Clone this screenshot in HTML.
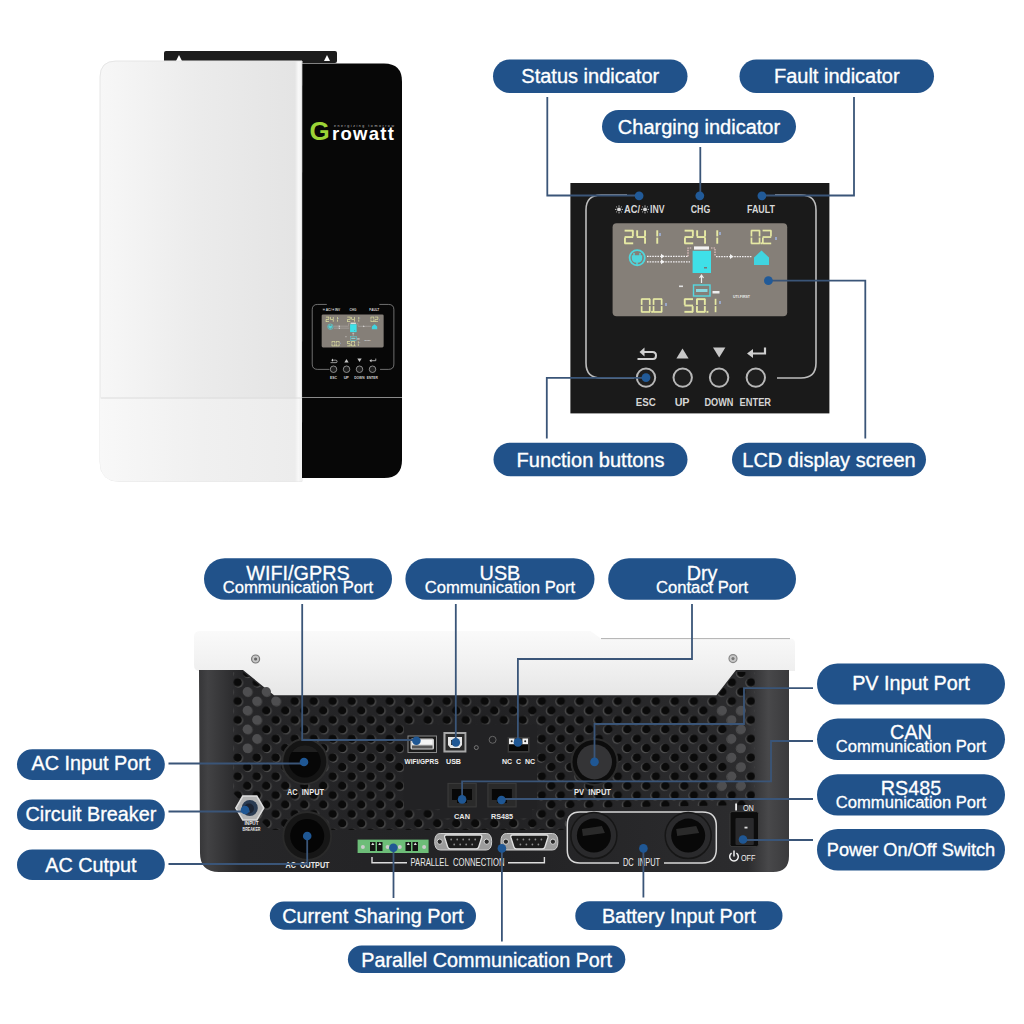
<!DOCTYPE html>
<html><head><meta charset="utf-8"><style>
html,body{margin:0;padding:0;background:#fff;width:1024px;height:1024px;overflow:hidden}
svg{display:block;font-family:"Liberation Sans", sans-serif}
</style></head><body>
<svg width="1024" height="1024" viewBox="0 0 1024 1024">
<defs>
<linearGradient id="wbody" x1="0" x2="1" y1="0" y2="0">
 <stop offset="0" stop-color="#f7f7f7"/>
 <stop offset="0.5" stop-color="#ebebeb"/>
 <stop offset="0.965" stop-color="#e4e4e4"/>
 <stop offset="0.982" stop-color="#f8f8f8"/>
 <stop offset="0.995" stop-color="#f4f4f4"/>
 <stop offset="1" stop-color="#d0d0d0"/>
</linearGradient>
<linearGradient id="wbody2" x1="0" x2="1" y1="0" y2="0">
 <stop offset="0" stop-color="#f8f8f8"/>
 <stop offset="0.5" stop-color="#f0f0f0"/>
 <stop offset="0.965" stop-color="#ececec"/>
 <stop offset="0.982" stop-color="#f8f8f8"/>
 <stop offset="1" stop-color="#eeeeee"/>
</linearGradient>
<linearGradient id="lidg" x1="0" x2="0" y1="0" y2="1">
 <stop offset="0" stop-color="#fafafa"/>
 <stop offset="0.5" stop-color="#f1f1f1"/>
 <stop offset="1" stop-color="#e6e6e6"/>
</linearGradient>
<linearGradient id="bodyg" x1="199" x2="789" y1="0" y2="0" gradientUnits="userSpaceOnUse">
 <stop offset="0" stop-color="#363638"/>
 <stop offset="0.015" stop-color="#424244"/>
 <stop offset="0.045" stop-color="#333335"/>
 <stop offset="0.07" stop-color="#262628"/>
 <stop offset="0.5" stop-color="#222224"/>
 <stop offset="0.93" stop-color="#2c2c2e"/>
 <stop offset="0.965" stop-color="#48484a"/>
 <stop offset="1" stop-color="#3a3a3c"/>
</linearGradient>
<pattern id="holesL" patternUnits="userSpaceOnUse" x="304.3" y="691.7" width="19.0" height="18.8"><circle cx="0.7" cy="0.5" r="4.6" fill="#5a5a5a"/><circle cx="0" cy="0" r="4.3" fill="#0a0a0a"/><circle cx="19.7" cy="0.5" r="4.6" fill="#5a5a5a"/><circle cx="19.0" cy="0" r="4.3" fill="#0a0a0a"/><circle cx="0.7" cy="19.3" r="4.6" fill="#5a5a5a"/><circle cx="0" cy="18.8" r="4.3" fill="#0a0a0a"/><circle cx="19.7" cy="19.3" r="4.6" fill="#5a5a5a"/><circle cx="19.0" cy="18.8" r="4.3" fill="#0a0a0a"/><circle cx="10.2" cy="9.9" r="4.6" fill="#5a5a5a"/><circle cx="9.5" cy="9.4" r="4.3" fill="#0a0a0a"/></pattern><pattern id="holesR" patternUnits="userSpaceOnUse" x="304.3" y="691.7" width="19.0" height="18.8"><circle cx="-0.7" cy="0.5" r="4.6" fill="#5a5a5a"/><circle cx="0" cy="0" r="4.3" fill="#0a0a0a"/><circle cx="18.3" cy="0.5" r="4.6" fill="#5a5a5a"/><circle cx="19.0" cy="0" r="4.3" fill="#0a0a0a"/><circle cx="-0.7" cy="19.3" r="4.6" fill="#5a5a5a"/><circle cx="0" cy="18.8" r="4.3" fill="#0a0a0a"/><circle cx="18.3" cy="19.3" r="4.6" fill="#5a5a5a"/><circle cx="19.0" cy="18.8" r="4.3" fill="#0a0a0a"/><circle cx="8.8" cy="9.9" r="4.6" fill="#5a5a5a"/><circle cx="9.5" cy="9.4" r="4.3" fill="#0a0a0a"/></pattern>
<clipPath id="clipL"><rect x="0" y="0" width="530" height="1024"/></clipPath><clipPath id="clipR"><rect x="530" y="0" width="494" height="1024"/></clipPath>
</defs>
<rect x="164" y="51" width="173" height="12" rx="2" fill="#1c1c1c"/>
<path d="M176,61 L179,55 L182,61 Z" fill="#fff"/><path d="M324,61 L327,55 L330,61 Z" fill="#fff"/>
<path d="M116,61 L302,61 L302,481.5 L120,481.5 Q100,481.5 100,461.5 L100,77 Q100,61 116,61 Z" fill="url(#wbody)" stroke="#e6e6e6" stroke-width="1"/>
<path d="M100,398.5 L302,398.5 L302,481.5 L120,481.5 Q100,481.5 100,461.5 Z" fill="url(#wbody2)"/>
<line x1="101" y1="398" x2="302" y2="398" stroke="#dcdcdc" stroke-width="1"/>
<path d="M302.3,63.5 L384,63.5 Q402,63.5 402,81.5 L402,460 Q402,478 384,478 L302,478 Z" fill="#070707"/>
<line x1="302" y1="397.5" x2="402" y2="397.5" stroke="#8a8a8a" stroke-width="1.2"/>
<text x="309.5" y="139.5" font-size="26" font-weight="bold" fill="#9cd436">G</text>
<text x="332" y="139.5" font-size="18.5" font-weight="bold" fill="#fff" textLength="62" lengthAdjust="spacing">rowatt</text>
<text x="334" y="127" font-size="3.6" fill="#bbbbbb" textLength="60" lengthAdjust="spacing">energizing tomorrow</text>
<rect x="493" y="59.5" width="194.5" height="33.5" rx="16.75" fill="#21528a"/>
<text x="590.25" y="82.8" font-size="20.0" fill="#fff" stroke="#fff" stroke-width="0.35" text-anchor="middle" letter-spacing="0">Status indicator</text>
<rect x="602" y="110" width="194" height="33" rx="16.5" fill="#21528a"/>
<text x="699.0" y="133.8" font-size="20.0" fill="#fff" stroke="#fff" stroke-width="0.35" text-anchor="middle" letter-spacing="0">Charging indicator</text>
<rect x="739.5" y="59.5" width="194.5" height="33.5" rx="16.75" fill="#21528a"/>
<text x="836.75" y="82.8" font-size="20.0" fill="#fff" stroke="#fff" stroke-width="0.35" text-anchor="middle" letter-spacing="0">Fault indicator</text>
<rect x="493.5" y="442.7" width="194.0" height="33.5" rx="16.75" fill="#21528a"/>
<text x="590.5" y="466.7" font-size="20.0" fill="#fff" stroke="#fff" stroke-width="0.35" text-anchor="middle" letter-spacing="0">Function buttons</text>
<rect x="732" y="442.7" width="194" height="33.5" rx="16.75" fill="#21528a"/>
<text x="829.0" y="466.7" font-size="20.0" fill="#fff" stroke="#fff" stroke-width="0.35" text-anchor="middle" letter-spacing="0">LCD display screen</text>
<defs><g id="panelg"><path d="M627,195 L601,195 Q586,195 586,210 L586,363 Q586,378 601,378 L634,378 M775,195 L801,195 Q816,195 816,210 L816,363 Q816,378 801,378 L777,378" fill="none" stroke="#bdbdbd" stroke-width="1.6"/><circle cx="619" cy="209.4" r="1.9" fill="#d8d8d8"/><line x1="621.60" y1="209.40" x2="623.00" y2="209.40" stroke="#d8d8d8" stroke-width="0.9"/><line x1="620.84" y1="211.24" x2="621.83" y2="212.23" stroke="#d8d8d8" stroke-width="0.9"/><line x1="619.00" y1="212.00" x2="619.00" y2="213.40" stroke="#d8d8d8" stroke-width="0.9"/><line x1="617.16" y1="211.24" x2="616.17" y2="212.23" stroke="#d8d8d8" stroke-width="0.9"/><line x1="616.40" y1="209.40" x2="615.00" y2="209.40" stroke="#d8d8d8" stroke-width="0.9"/><line x1="617.16" y1="207.56" x2="616.17" y2="206.57" stroke="#d8d8d8" stroke-width="0.9"/><line x1="619.00" y1="206.80" x2="619.00" y2="205.40" stroke="#d8d8d8" stroke-width="0.9"/><line x1="620.84" y1="207.56" x2="621.83" y2="206.57" stroke="#d8d8d8" stroke-width="0.9"/><circle cx="645" cy="209.4" r="1.9" fill="#d8d8d8"/><line x1="647.60" y1="209.40" x2="649.00" y2="209.40" stroke="#d8d8d8" stroke-width="0.9"/><line x1="646.84" y1="211.24" x2="647.83" y2="212.23" stroke="#d8d8d8" stroke-width="0.9"/><line x1="645.00" y1="212.00" x2="645.00" y2="213.40" stroke="#d8d8d8" stroke-width="0.9"/><line x1="643.16" y1="211.24" x2="642.17" y2="212.23" stroke="#d8d8d8" stroke-width="0.9"/><line x1="642.40" y1="209.40" x2="641.00" y2="209.40" stroke="#d8d8d8" stroke-width="0.9"/><line x1="643.16" y1="207.56" x2="642.17" y2="206.57" stroke="#d8d8d8" stroke-width="0.9"/><line x1="645.00" y1="206.80" x2="645.00" y2="205.40" stroke="#d8d8d8" stroke-width="0.9"/><line x1="646.84" y1="207.56" x2="647.83" y2="206.57" stroke="#d8d8d8" stroke-width="0.9"/><text x="624" y="213.3" font-size="10.5" font-weight="bold" fill="#d8d8d8" textLength="16" lengthAdjust="spacingAndGlyphs">AC/</text><text x="650" y="213.3" font-size="10.5" font-weight="bold" fill="#d8d8d8" textLength="14.5" lengthAdjust="spacingAndGlyphs">INV</text><text x="700.5" y="213.3" font-size="10.5" font-weight="bold" fill="#d8d8d8" text-anchor="middle" textLength="19.5" lengthAdjust="spacingAndGlyphs">CHG</text><text x="761" y="213.3" font-size="10.5" font-weight="bold" fill="#d8d8d8" text-anchor="middle" textLength="28" lengthAdjust="spacingAndGlyphs">FAULT</text><rect x="612.6" y="223.2" width="174.6" height="93.1" rx="4" fill="#857f78"/><rect x="624.6" y="229.7" width="8.6" height="1.9" fill="#e6e9a4"/><rect x="624.6" y="236.1" width="8.6" height="1.9" fill="#e6e9a4"/><rect x="624.6" y="242.4" width="8.6" height="1.9" fill="#e6e9a4"/><rect x="624.0" y="237.6" width="1.9" height="6.1" fill="#e6e9a4"/><rect x="631.9" y="230.3" width="1.9" height="6.1" fill="#e6e9a4"/><rect x="636.8" y="236.1" width="8.6" height="1.9" fill="#e6e9a4"/><rect x="636.2" y="230.3" width="1.9" height="6.1" fill="#e6e9a4"/><rect x="644.1" y="230.3" width="1.9" height="6.1" fill="#e6e9a4"/><rect x="644.1" y="237.6" width="1.9" height="6.1" fill="#e6e9a4"/><rect x="656.3" y="230.3" width="1.9" height="6.1" fill="#e6e9a4"/><rect x="656.3" y="237.6" width="1.9" height="6.1" fill="#e6e9a4"/><rect x="684.6" y="229.7" width="8.6" height="1.9" fill="#e6e9a4"/><rect x="684.6" y="236.1" width="8.6" height="1.9" fill="#e6e9a4"/><rect x="684.6" y="242.4" width="8.6" height="1.9" fill="#e6e9a4"/><rect x="684.0" y="237.6" width="1.9" height="6.1" fill="#e6e9a4"/><rect x="691.9" y="230.3" width="1.9" height="6.1" fill="#e6e9a4"/><rect x="696.8" y="236.1" width="8.6" height="1.9" fill="#e6e9a4"/><rect x="696.2" y="230.3" width="1.9" height="6.1" fill="#e6e9a4"/><rect x="704.1" y="230.3" width="1.9" height="6.1" fill="#e6e9a4"/><rect x="704.1" y="237.6" width="1.9" height="6.1" fill="#e6e9a4"/><rect x="716.3" y="230.3" width="1.9" height="6.1" fill="#e6e9a4"/><rect x="716.3" y="237.6" width="1.9" height="6.1" fill="#e6e9a4"/><rect x="751.2" y="229.7" width="8.6" height="1.7" fill="#e6e9a4"/><rect x="751.2" y="242.6" width="8.6" height="1.7" fill="#e6e9a4"/><rect x="750.6" y="230.3" width="1.7" height="6.1" fill="#e6e9a4"/><rect x="750.6" y="237.6" width="1.7" height="6.1" fill="#e6e9a4"/><rect x="758.7" y="230.3" width="1.7" height="6.1" fill="#e6e9a4"/><rect x="758.7" y="237.6" width="1.7" height="6.1" fill="#e6e9a4"/><rect x="760.5" y="242.4" width="1.9" height="1.9" fill="#e6e9a4"/><rect x="762.6" y="229.7" width="8.6" height="1.7" fill="#e6e9a4"/><rect x="762.6" y="236.2" width="8.6" height="1.7" fill="#e6e9a4"/><rect x="762.6" y="242.6" width="8.6" height="1.7" fill="#e6e9a4"/><rect x="762.0" y="237.6" width="1.7" height="6.1" fill="#e6e9a4"/><rect x="770.1" y="230.3" width="1.7" height="6.1" fill="#e6e9a4"/><rect x="641.4" y="298.2" width="8.6" height="1.7" fill="#e6e9a4"/><rect x="641.4" y="311.1" width="8.6" height="1.7" fill="#e6e9a4"/><rect x="640.8" y="298.8" width="1.7" height="6.1" fill="#e6e9a4"/><rect x="640.8" y="306.1" width="1.7" height="6.1" fill="#e6e9a4"/><rect x="648.9" y="298.8" width="1.7" height="6.1" fill="#e6e9a4"/><rect x="648.9" y="306.1" width="1.7" height="6.1" fill="#e6e9a4"/><rect x="651.2" y="310.9" width="1.9" height="1.9" fill="#e6e9a4"/><rect x="653.3" y="298.2" width="8.6" height="1.7" fill="#e6e9a4"/><rect x="653.3" y="311.1" width="8.6" height="1.7" fill="#e6e9a4"/><rect x="652.7" y="298.8" width="1.7" height="6.1" fill="#e6e9a4"/><rect x="652.7" y="306.1" width="1.7" height="6.1" fill="#e6e9a4"/><rect x="660.8" y="298.8" width="1.7" height="6.1" fill="#e6e9a4"/><rect x="660.8" y="306.1" width="1.7" height="6.1" fill="#e6e9a4"/><rect x="684.4" y="298.2" width="8.6" height="1.9" fill="#e6e9a4"/><rect x="684.4" y="304.6" width="8.6" height="1.9" fill="#e6e9a4"/><rect x="684.4" y="310.9" width="8.6" height="1.9" fill="#e6e9a4"/><rect x="683.8" y="298.8" width="1.9" height="6.1" fill="#e6e9a4"/><rect x="691.7" y="306.1" width="1.9" height="6.1" fill="#e6e9a4"/><rect x="696.6" y="298.2" width="8.6" height="1.9" fill="#e6e9a4"/><rect x="696.6" y="310.9" width="8.6" height="1.9" fill="#e6e9a4"/><rect x="696.0" y="298.8" width="1.9" height="6.1" fill="#e6e9a4"/><rect x="696.0" y="306.1" width="1.9" height="6.1" fill="#e6e9a4"/><rect x="703.9" y="298.8" width="1.9" height="6.1" fill="#e6e9a4"/><rect x="703.9" y="306.1" width="1.9" height="6.1" fill="#e6e9a4"/><rect x="706.5" y="310.9" width="1.9" height="1.9" fill="#e6e9a4"/><rect x="714.7" y="298.8" width="1.7" height="6.1" fill="#e6e9a4"/><rect x="714.7" y="306.1" width="1.7" height="6.1" fill="#e6e9a4"/><rect x="659" y="233" width="2" height="3" fill="#9aa8c8"/><rect x="719" y="232" width="2" height="3" fill="#9aa8c8"/><rect x="775" y="237" width="2" height="3" fill="#9aa8c8"/><rect x="665" y="303" width="2" height="3" fill="#9aa8c8"/><rect x="719" y="301" width="2" height="3" fill="#9aa8c8"/><circle cx="637.2" cy="257.8" r="7.6" fill="none" stroke="#4fd6dc" stroke-width="1.8"/><path d="M634,253 v3 M640,253 v3 M632.5,256 h9 v2 q0,4 -4.5,4 q-4.5,0 -4.5,-4 z M637,262 v3" stroke="#4fd6dc" stroke-width="1.5" fill="#4fd6dc"/><path d="M647,256.3 H688 M647,261.8 H690 M716,256.6 H752" stroke="#f0eef0" stroke-width="1.3" stroke-dasharray="1.6 1"/><path d="M661,253.8 l3.5,2.5 l-3.5,2.5 z M661,259.3 l3.5,2.5 l-3.5,2.5 z M730,254.1 l3.5,2.5 l-3.5,2.5 z" fill="#f4f4f4"/><path d="M688,256.3 V248 H692 M711,248 H715 V256.6" stroke="#e8c8c8" stroke-width="1.2" fill="none" stroke-dasharray="1.5 1"/><rect x="694" y="246.4" width="15" height="3.2" fill="#f2f2f2"/><rect x="692.6" y="250.8" width="18.4" height="22.2" fill="#3fe0e8"/><rect x="704" y="267" width="3" height="1.5" fill="#777"/><path d="M701.5,283 V276 M699.5,278 l2,-3 l2,3" stroke="#f0f0f0" stroke-width="1.2" fill="none"/><rect x="693.5" y="285" width="16.5" height="11" fill="none" stroke="#55d8e0" stroke-width="1.4"/><rect x="696" y="289" width="11.5" height="3" fill="#8ad8e0"/><rect x="712.5" y="291" width="7" height="2.5" fill="#eeeeee"/><rect x="679" y="285.5" width="4" height="1.6" fill="#e0e0e0"/><text x="733" y="297.5" font-size="4.2" font-weight="bold" fill="#e8e8e8" textLength="17" lengthAdjust="spacingAndGlyphs">UTI.FIRST</text><path d="M754,257.5 L761.5,250.5 L769,257.5 V265 H754 Z" fill="#40d4e0"/><path d="M637.5,359 H653 Q656,359 656,355.5 Q656,352 652.5,352 H643" stroke="#d0d0d0" stroke-width="2" fill="none"/><path d="M639.5,352 l5,-4.5 v9 z" fill="#d0d0d0"/><path d="M676.4,358.6 L682.5,348.6 L688.6,358.6 Z" fill="#c8c8c8"/><path d="M713,347.4 L725.4,347.4 L719.2,357.4 Z" fill="#c8c8c8"/><path d="M765,347.5 V353.5 H752" stroke="#d0d0d0" stroke-width="2.2" fill="none"/><path d="M747,353.5 l6,-4.5 v9 z" fill="#d0d0d0"/><circle cx="646" cy="377.6" r="9.2" fill="#1e1e1e" stroke="#b8b8b8" stroke-width="2"/><circle cx="682.7" cy="377.6" r="9.2" fill="#1e1e1e" stroke="#b8b8b8" stroke-width="2"/><circle cx="719.1" cy="377.6" r="9.2" fill="#1e1e1e" stroke="#b8b8b8" stroke-width="2"/><circle cx="755.8" cy="377.6" r="9.2" fill="#1e1e1e" stroke="#b8b8b8" stroke-width="2"/><text x="645.8" y="406.4" font-size="10.8" font-weight="bold" fill="#d4d4d4" text-anchor="middle" textLength="20" lengthAdjust="spacingAndGlyphs">ESC</text><text x="682.1" y="406.4" font-size="10.8" font-weight="bold" fill="#d4d4d4" text-anchor="middle" textLength="14.6" lengthAdjust="spacing">UP</text><text x="718.9" y="406.4" font-size="10.8" font-weight="bold" fill="#d4d4d4" text-anchor="middle" textLength="29" lengthAdjust="spacingAndGlyphs">DOWN</text><text x="755.3" y="406.4" font-size="10.8" font-weight="bold" fill="#d4d4d4" text-anchor="middle" textLength="31.5" lengthAdjust="spacingAndGlyphs">ENTER</text></g></defs>
<rect x="570.4" y="183" width="259" height="230.4" fill="#1a1a1a"/>
<use href="#panelg"/>
<g transform="translate(104.2,235.2) scale(0.355)"><use href="#panelg"/></g>
<path d="M547.3,97 L547.3,195.5 L639,195.5" fill="none" stroke="#3a5578" stroke-width="1.8"/>
<path d="M700.3,147 L700.3,195.7" fill="none" stroke="#3a5578" stroke-width="1.8"/>
<path d="M854,97 L854,195.5 L762,195.5" fill="none" stroke="#3a5578" stroke-width="1.8"/>
<path d="M646,377.8 L546.8,377.8 L546.8,438.5" fill="none" stroke="#3a5578" stroke-width="1.8"/>
<path d="M768.4,280.7 L865.3,280.7 L865.3,438.5" fill="none" stroke="#3a5578" stroke-width="1.8"/>
<circle cx="639.1" cy="195.8" r="4.4" fill="#215a98"/>
<circle cx="699.8" cy="195.8" r="4.4" fill="#215a98"/>
<circle cx="761.9" cy="195.8" r="4.4" fill="#215a98"/>
<circle cx="646" cy="377.6" r="4.4" fill="#215a98"/>
<circle cx="768.4" cy="280.7" r="4.4" fill="#215a98"/>
<path d="M200,631 L590.5,631 L601,638.4 L790,638.4 Q795,638.4 795,643.4 L795,671 L736,671 L716.4,696 L274,696 L243,671 L200,671 Q194,671 194,665 L194,637 Q194,631 200,631 Z" fill="url(#lidg)"/>
<path d="M601,638.6 L790,638.6" stroke="#b0b0b0" stroke-width="1"/>
<circle cx="255.6" cy="659" r="4" fill="#c8c8c8" stroke="#777" stroke-width="1.2"/><circle cx="255.6" cy="659" r="1.6" fill="#666"/>
<circle cx="733" cy="658.6" r="4" fill="#c8c8c8" stroke="#888" stroke-width="1.2"/><circle cx="733" cy="658.6" r="1.6" fill="#777"/>
<path d="M199,670 L243,670 L274,695.3 L716.4,695.3 L736,670 L789,670 L789,856 Q789,872 773,872 L219,872 Q200,872 200,853 Z" fill="url(#bodyg)"/>
<path d="M233,672 L243,672 L274,697 L716,697 L736,672 L755,672 L755,805 L566,808 L566,830 L270,830 L233,793 Z" fill="url(#holesL)" clip-path="url(#clipL)"/>
<path d="M233,672 L243,672 L274,697 L716,697 L736,672 L755,672 L755,805 L566,808 L566,830 L270,830 L233,793 Z" fill="url(#holesR)" clip-path="url(#clipR)"/>
<circle cx="247.3" cy="691.7" r="4.7" fill="#4e4e50"/>
<circle cx="256.8" cy="701.1" r="4.7" fill="#4e4e50"/>
<circle cx="247.3" cy="710.5" r="4.7" fill="#4e4e50"/>
<circle cx="256.8" cy="719.9" r="4.7" fill="#4e4e50"/>
<circle cx="247.3" cy="729.3" r="4.7" fill="#4e4e50"/>
<circle cx="256.8" cy="738.7" r="4.7" fill="#4e4e50"/>
<circle cx="247.3" cy="748.1" r="4.7" fill="#4e4e50"/>
<circle cx="266.3" cy="691.7" r="4.7" fill="#4e4e50"/>
<circle cx="275.8" cy="701.1" r="4.7" fill="#4e4e50"/>
<circle cx="741.3" cy="729.3" r="4.7" fill="#4e4e50"/>
<circle cx="731.8" cy="738.7" r="4.7" fill="#4e4e50"/>
<circle cx="741.3" cy="748.1" r="4.7" fill="#4e4e50"/>
<circle cx="731.8" cy="757.5" r="4.7" fill="#4e4e50"/>
<circle cx="741.3" cy="766.9" r="4.7" fill="#4e4e50"/>
<circle cx="731.8" cy="776.3" r="4.7" fill="#4e4e50"/>
<circle cx="741.3" cy="785.7" r="4.7" fill="#4e4e50"/>
<circle cx="722.3" cy="785.7" r="4.7" fill="#4e4e50"/>
<circle cx="741.3" cy="710.5" r="4.7" fill="#4e4e50"/>
<circle cx="731.8" cy="719.9" r="4.7" fill="#4e4e50"/>
<circle cx="722.3" cy="710.5" r="4.7" fill="#4e4e50"/>
<path d="M403.9,724.6 L537,724.6 L537,809.5 L532,809.5 L532,818.6 L440,818.6 L440,809.5 L403.9,809.5 Z" fill="#222224"/>
<circle cx="304.8" cy="761.5" r="22.5" fill="#141414" stroke="#2e2e2e" stroke-width="2"/><circle cx="304.8" cy="761.5" r="16" fill="#070707"/><path d="M292,752 A16,16 0 0,1 318,752 Z" fill="#1f1f1f"/>
<text x="305.5" y="794.5" font-size="9" font-weight="bold" fill="#e8e8e8" text-anchor="middle" textLength="37" lengthAdjust="spacingAndGlyphs">AC&#160;&#160;INPUT</text>
<path d="M242.8,796 L256.8,796 L263.8,808 L256.8,820 L242.8,820 L235.8,808 Z" fill="#b4b4b4" stroke="#dddddd" stroke-width="1.5"/><circle cx="249.8" cy="808" r="8" fill="#2a3b52"/><circle cx="249" cy="808.5" r="5" fill="#1b2230"/>
<text x="251.5" y="825" font-size="5" font-weight="bold" fill="#e8e8e8" text-anchor="middle" textLength="14" lengthAdjust="spacingAndGlyphs">INPUT</text>
<text x="251.5" y="830.8" font-size="5" font-weight="bold" fill="#e8e8e8" text-anchor="middle" textLength="18" lengthAdjust="spacingAndGlyphs">BREAKER</text>
<circle cx="307.2" cy="836" r="24" fill="#161616" stroke="#2a2a2a" stroke-width="2"/><circle cx="307.2" cy="836" r="17" fill="#050505"/>
<text x="307.5" y="868" font-size="9" font-weight="bold" fill="#e8e8e8" text-anchor="middle" textLength="44" lengthAdjust="spacingAndGlyphs">AC&#160;&#160;OUTPUT</text>
<rect x="357.6" y="839.6" width="71" height="13.4" fill="#6dbd78"/>
<rect x="370" y="842" width="5.5" height="9" fill="#141414"/><path d="M371.2,845 l1.6,-2.5 l1.6,2.5 z" fill="#ddd"/>
<rect x="377" y="842" width="5.5" height="9" fill="#141414"/><path d="M378.2,845 l1.6,-2.5 l1.6,2.5 z" fill="#ddd"/>
<rect x="405.5" y="842" width="5.5" height="9" fill="#141414"/><path d="M406.7,845 l1.6,-2.5 l1.6,2.5 z" fill="#ddd"/>
<rect x="412.5" y="842" width="5.5" height="9" fill="#141414"/><path d="M413.7,845 l1.6,-2.5 l1.6,2.5 z" fill="#ddd"/>
<circle cx="362.9" cy="847" r="2" fill="#ccc"/>
<circle cx="387.6" cy="847" r="2" fill="#ccc"/>
<circle cx="399.8" cy="847" r="2" fill="#ccc"/>
<circle cx="424.1" cy="847" r="2" fill="#ccc"/>
<text x="457.5" y="865.8" font-size="10.3" font-weight="normal" fill="#e8e8e8" text-anchor="middle" textLength="94" lengthAdjust="spacingAndGlyphs">PARALLEL&#160;&#160;CONNECTION</text>
<path d="M372,857 V862.8 H407 M508,862.8 H544.4 V857" stroke="#dddddd" stroke-width="1.4" fill="none"/>
<path d="M440.2,833.5 H486.2 Q491.7,833.5 491.7,841.7 Q491.7,850 486.2,850 H440.2 Q434.7,850 434.7,841.7 Q434.7,833.5 440.2,833.5 Z" fill="#9c9c9c" stroke="#d0d0d0" stroke-width="1"/>
<path d="M446.2,835 H480.2 Q482.2,835 481.7,837.5 L478.7,847 Q478.2,848.8 476.2,848.8 H450.2 Q448.2,848.8 447.7,847 L444.7,837.5 Q444.2,835 446.2,835 Z" fill="#1c1c1c" stroke="#e0e0e0" stroke-width="1.3"/>
<circle cx="451.2" cy="839.5" r="0.9" fill="#8a8a8a"/>
<circle cx="457.2" cy="839.5" r="0.9" fill="#8a8a8a"/>
<circle cx="463.2" cy="839.5" r="0.9" fill="#8a8a8a"/>
<circle cx="469.2" cy="839.5" r="0.9" fill="#8a8a8a"/>
<circle cx="475.2" cy="839.5" r="0.9" fill="#8a8a8a"/>
<circle cx="454.2" cy="844.5" r="0.9" fill="#8a8a8a"/>
<circle cx="460.2" cy="844.5" r="0.9" fill="#8a8a8a"/>
<circle cx="466.2" cy="844.5" r="0.9" fill="#8a8a8a"/>
<circle cx="472.2" cy="844.5" r="0.9" fill="#8a8a8a"/>
<circle cx="439.7" cy="841.7" r="2.6" fill="#2a2a2a" stroke="#eee" stroke-width="0.8"/><circle cx="486.7" cy="841.7" r="2.6" fill="#2a2a2a" stroke="#eee" stroke-width="0.8"/>
<path d="M506.4,833.5 H552.4 Q557.9,833.5 557.9,841.7 Q557.9,850 552.4,850 H506.4 Q500.9,850 500.9,841.7 Q500.9,833.5 506.4,833.5 Z" fill="#9c9c9c" stroke="#d0d0d0" stroke-width="1"/>
<path d="M512.4,835 H546.4 Q548.4,835 547.9,837.5 L544.9,847 Q544.4,848.8 542.4,848.8 H516.4 Q514.4,848.8 513.9,847 L510.9,837.5 Q510.4,835 512.4,835 Z" fill="#1c1c1c" stroke="#e0e0e0" stroke-width="1.3"/>
<circle cx="517.4" cy="839.5" r="0.9" fill="#8a8a8a"/>
<circle cx="523.4" cy="839.5" r="0.9" fill="#8a8a8a"/>
<circle cx="529.4" cy="839.5" r="0.9" fill="#8a8a8a"/>
<circle cx="535.4" cy="839.5" r="0.9" fill="#8a8a8a"/>
<circle cx="541.4" cy="839.5" r="0.9" fill="#8a8a8a"/>
<circle cx="520.4" cy="844.5" r="0.9" fill="#8a8a8a"/>
<circle cx="526.4" cy="844.5" r="0.9" fill="#8a8a8a"/>
<circle cx="532.4" cy="844.5" r="0.9" fill="#8a8a8a"/>
<circle cx="538.4" cy="844.5" r="0.9" fill="#8a8a8a"/>
<circle cx="505.9" cy="841.7" r="2.6" fill="#2a2a2a" stroke="#eee" stroke-width="0.8"/><circle cx="552.9" cy="841.7" r="2.6" fill="#2a2a2a" stroke="#eee" stroke-width="0.8"/>
<path d="M619,863 H580 Q567.3,863 567.3,850 V825 Q567.3,812 580,812 H702.3 Q716.3,812 716.3,826 V849 Q716.3,863 702.3,863 H664" fill="none" stroke="#d8d8d8" stroke-width="1.5"/>
<circle cx="593.9" cy="835.6" r="23" fill="#2a2a2c" stroke="#161616" stroke-width="1.5"/><circle cx="593.9" cy="835.6" r="17" fill="#080808"/><path d="M581.9,829 L601.9,826 L604.9,833 L582.9,836 Z" fill="#2a2a2a"/>
<circle cx="688.2" cy="835.6" r="23" fill="#2a2a2c" stroke="#161616" stroke-width="1.5"/><circle cx="688.2" cy="835.6" r="17" fill="#080808"/><path d="M676.2,829 L696.2,826 L699.2,833 L677.2,836 Z" fill="#2a2a2a"/>
<text x="641.5" y="865.5" font-size="10.2" font-weight="normal" fill="#f0f0f0" text-anchor="middle" textLength="37" lengthAdjust="spacingAndGlyphs">DC&#160;&#160;INPUT</text>
<rect x="730" y="811.6" width="28.5" height="35" rx="2" fill="#0c0c0c" stroke="#3a3a3a" stroke-width="1"/><rect x="735.5" y="818" width="18.3" height="27" rx="1" fill="#2a2a2c"/><rect x="744.5" y="826.7" width="3" height="1.8" fill="#ddd"/>
<rect x="735.2" y="803.5" width="1.8" height="7" fill="#f0f0f0"/>
<text x="748.4" y="810.5" font-size="9.5" font-weight="normal" fill="#f0f0f0" text-anchor="middle" textLength="11" lengthAdjust="spacingAndGlyphs">ON</text>
<text x="748.2" y="860.5" font-size="9.5" font-weight="normal" fill="#f0f0f0" text-anchor="middle" textLength="14.5" lengthAdjust="spacingAndGlyphs">OFF</text>
<path d="M731.6,853.2 A4.3,4.3 0 1,0 736.4,853.2" fill="none" stroke="#f0f0f0" stroke-width="1.5"/><path d="M734,850.5 V856.5" stroke="#f0f0f0" stroke-width="1.5"/>
<rect x="408" y="736" width="28.5" height="16.5" fill="#1a1a1a" stroke="#8a8a8a" stroke-width="1"/><rect x="410.5" y="738.5" width="23.5" height="11" rx="1.5" fill="#cfcfcf"/><rect x="412" y="740" width="20.5" height="4.5" fill="#f4f4f4"/><rect x="412" y="745.5" width="20.5" height="3" fill="#555"/>
<text x="421.5" y="763.5" font-size="7.8" font-weight="bold" fill="#f2f2f2" text-anchor="middle" textLength="34" lengthAdjust="spacingAndGlyphs">WIFI/GPRS</text>
<rect x="443.4" y="732" width="23" height="20.5" fill="#a8a8a8"/><rect x="445.5" y="734" width="19" height="16.5" fill="#2a2a2a"/><path d="M448,737 H462 V745 L459.5,748 H450.5 L448,745 Z" fill="#e8e8e8"/><rect x="451" y="740" width="8" height="5" fill="#333"/>
<circle cx="476.3" cy="747.6" r="2" fill="none" stroke="#777" stroke-width="1"/><circle cx="492.6" cy="739.8" r="3.5" fill="none" stroke="#666" stroke-width="1"/>
<text x="453.5" y="764" font-size="7.8" font-weight="bold" fill="#f2f2f2" text-anchor="middle" textLength="15" lengthAdjust="spacingAndGlyphs">USB</text>
<rect x="507.6" y="737" width="22" height="15.6" fill="#3a3a3a"/><rect x="509" y="738.5" width="5.5" height="5.5" fill="#f0f0f0"/><rect x="515.5" y="738.5" width="6" height="5.5" fill="#222"/><rect x="522.5" y="738.5" width="5.5" height="5.5" fill="#f0f0f0"/><rect x="509" y="745" width="19" height="6" fill="#070707"/><circle cx="511.7" cy="741.2" r="1" fill="#222"/><circle cx="525.2" cy="741.2" r="1" fill="#222"/>
<text x="518.5" y="764" font-size="7.8" font-weight="bold" fill="#f2f2f2" text-anchor="middle" textLength="33" lengthAdjust="spacingAndGlyphs">NC&#160;&#160;C&#160;&#160;NC</text>
<circle cx="594.5" cy="761.9" r="23" fill="#0c0c0c" stroke="#2c2c2c" stroke-width="2"/><circle cx="594.5" cy="761.9" r="17.5" fill="#343436"/>
<text x="592.5" y="795" font-size="9.2" font-weight="bold" fill="#e8e8e8" text-anchor="middle" textLength="37" lengthAdjust="spacingAndGlyphs">PV&#160;&#160;INPUT</text>
<rect x="448" y="783.4" width="28.2" height="23.5" fill="#2a2a2a" stroke="#3c3c3c" stroke-width="1"/><path d="M452,789 H472 V800 H467 V803 H457 V800 H452 Z" fill="#080808"/>
<rect x="487.9" y="783.4" width="28.2" height="23.5" fill="#2a2a2a" stroke="#3c3c3c" stroke-width="1"/><path d="M491.9,789 H511.9 V800 H506.9 V803 H496.9 V800 H491.9 Z" fill="#080808"/>
<text x="462" y="818.5" font-size="8" font-weight="bold" fill="#e8e8e8" text-anchor="middle" textLength="16" lengthAdjust="spacingAndGlyphs">CAN</text>
<text x="502" y="818.5" font-size="8" font-weight="bold" fill="#e8e8e8" text-anchor="middle" textLength="22" lengthAdjust="spacingAndGlyphs">RS485</text>
<rect x="204" y="558.2" width="188" height="41.59999999999991" rx="20.799999999999955" fill="#21528a"/>
<text x="298.0" y="580.2" font-size="19.8" fill="#fff" stroke="#fff" stroke-width="0.3" text-anchor="middle">WIFI/GPRS</text>
<text x="298.0" y="593.2" font-size="16.6" fill="#fff" stroke="#fff" stroke-width="0.3" text-anchor="middle">Communication Port</text>
<rect x="405.4" y="558.2" width="189.10000000000002" height="41.59999999999991" rx="20.799999999999955" fill="#21528a"/>
<text x="499.95" y="580.2" font-size="19.8" fill="#fff" stroke="#fff" stroke-width="0.3" text-anchor="middle">USB</text>
<text x="499.95" y="593.2" font-size="16.6" fill="#fff" stroke="#fff" stroke-width="0.3" text-anchor="middle">Communication Port</text>
<rect x="608.2" y="558.2" width="187.79999999999995" height="41.59999999999991" rx="20.799999999999955" fill="#21528a"/>
<text x="702.1" y="580.2" font-size="19.8" fill="#fff" stroke="#fff" stroke-width="0.3" text-anchor="middle">Dry</text>
<text x="702.1" y="593.2" font-size="16.6" fill="#fff" stroke="#fff" stroke-width="0.3" text-anchor="middle">Contact Port</text>
<rect x="817" y="663.5" width="188" height="41.10000000000002" rx="20.55000000000001" fill="#21528a"/>
<text x="911.0" y="689.8" font-size="19.8" fill="#fff" stroke="#fff" stroke-width="0.35" text-anchor="middle" letter-spacing="0">PV Input Port</text>
<rect x="817" y="718.5" width="188" height="41.60000000000002" rx="20.80000000000001" fill="#21528a"/>
<text x="911.0" y="738.7" font-size="19.8" fill="#fff" stroke="#fff" stroke-width="0.3" text-anchor="middle">CAN</text>
<text x="911.0" y="751.8" font-size="16.6" fill="#fff" stroke="#fff" stroke-width="0.3" text-anchor="middle">Communication Port</text>
<rect x="817" y="774.2" width="188" height="41.39999999999998" rx="20.69999999999999" fill="#21528a"/>
<text x="911.0" y="794.7" font-size="19.8" fill="#fff" stroke="#fff" stroke-width="0.3" text-anchor="middle">RS485</text>
<text x="911.0" y="807.5" font-size="16.6" fill="#fff" stroke="#fff" stroke-width="0.3" text-anchor="middle">Communication Port</text>
<rect x="817" y="829" width="188" height="41.60000000000002" rx="20.80000000000001" fill="#21528a"/>
<text x="911.0" y="855.7" font-size="18.2" fill="#fff" stroke="#fff" stroke-width="0.35" text-anchor="middle" letter-spacing="0">Power On/Off Switch</text>
<rect x="17" y="749.2" width="147.8" height="30.699999999999932" rx="15.349999999999966" fill="#21528a"/>
<text x="90.9" y="769.8" font-size="19.8" fill="#fff" stroke="#fff" stroke-width="0.35" text-anchor="middle" letter-spacing="0">AC Input Port</text>
<rect x="17" y="799.6" width="147.8" height="30.399999999999977" rx="15.199999999999989" fill="#21528a"/>
<text x="90.9" y="821.2" font-size="19.8" fill="#fff" stroke="#fff" stroke-width="0.35" text-anchor="middle" letter-spacing="0">Circuit Breaker</text>
<rect x="17" y="849.5" width="147.8" height="30.5" rx="15.25" fill="#21528a"/>
<text x="90.9" y="872.0" font-size="19.8" fill="#fff" stroke="#fff" stroke-width="0.35" text-anchor="middle" letter-spacing="0">AC Cutput</text>
<rect x="269.8" y="901.6" width="206.2" height="28.100000000000023" rx="14.050000000000011" fill="#21528a"/>
<text x="372.9" y="922.9" font-size="19.8" fill="#fff" stroke="#fff" stroke-width="0.35" text-anchor="middle" letter-spacing="0">Current Sharing Port</text>
<rect x="347.9" y="945.6" width="277.4" height="27.399999999999977" rx="13.699999999999989" fill="#21528a"/>
<text x="486.59999999999997" y="966.5" font-size="19.8" fill="#fff" stroke="#fff" stroke-width="0.35" text-anchor="middle" letter-spacing="0">Parallel Communication Port</text>
<rect x="575.3" y="901.3" width="207.20000000000005" height="28.700000000000045" rx="14.350000000000023" fill="#21528a"/>
<text x="678.9" y="922.9" font-size="19.8" fill="#fff" stroke="#fff" stroke-width="0.35" text-anchor="middle" letter-spacing="0">Battery Input Port</text>
<path d="M302.2,604 L302.2,740 L416.4,740" fill="none" stroke="#3a5578" stroke-width="1.8"/>
<path d="M455.8,604 L455.8,742.4" fill="none" stroke="#3a5578" stroke-width="1.8"/>
<path d="M692,604 L692,659 L517.9,659 L517.9,742.4" fill="none" stroke="#3a5578" stroke-width="1.8"/>
<path d="M813,688.2 L744,688.2 L744,724 L594.5,724 L594.5,761.9" fill="none" stroke="#3a5578" stroke-width="1.8"/>
<path d="M813,741 L771,741 L771,781.3 L462.1,781.3 L462.1,799.4" fill="none" stroke="#3a5578" stroke-width="1.8"/>
<path d="M813,799 L501.5,799" fill="none" stroke="#3a5578" stroke-width="1.8"/>
<path d="M813,840 L743,840" fill="none" stroke="#3a5578" stroke-width="1.8"/>
<path d="M168.5,763.5 L304.8,763.5" fill="none" stroke="#3a5578" stroke-width="1.8"/>
<path d="M168.5,811.5 L249.8,811.5" fill="none" stroke="#3a5578" stroke-width="1.8"/>
<path d="M168.5,864 L307.2,864 L307.2,836" fill="none" stroke="#3a5578" stroke-width="1.8"/>
<path d="M393.5,847.7 L393.5,898" fill="none" stroke="#3a5578" stroke-width="1.8"/>
<path d="M501.9,848.4 L501.9,941.5" fill="none" stroke="#3a5578" stroke-width="1.8"/>
<path d="M643.4,848.4 L643.4,897.5" fill="none" stroke="#3a5578" stroke-width="1.8"/>
<circle cx="416.4" cy="740.8" r="4.3" fill="#1f5794"/>
<circle cx="455.8" cy="742.4" r="4.3" fill="#1f5794"/>
<circle cx="517.9" cy="742.4" r="4.3" fill="#1f5794"/>
<circle cx="594.5" cy="761.9" r="4.3" fill="#1f5794"/>
<circle cx="462.1" cy="799.4" r="4.3" fill="#1f5794"/>
<circle cx="501.5" cy="800" r="4.3" fill="#1f5794"/>
<circle cx="743" cy="839.5" r="4.3" fill="#1f5794"/>
<circle cx="304" cy="762" r="4.3" fill="#1f5794"/>
<circle cx="245" cy="810" r="4.3" fill="#1f5794"/>
<circle cx="307.2" cy="836" r="4.3" fill="#1f5794"/>
<circle cx="393.4" cy="847.7" r="4.3" fill="#1f5794"/>
<circle cx="501.9" cy="848.4" r="4.3" fill="#1f5794"/>
<circle cx="643.4" cy="848.4" r="4.3" fill="#1f5794"/>
</svg></body></html>
